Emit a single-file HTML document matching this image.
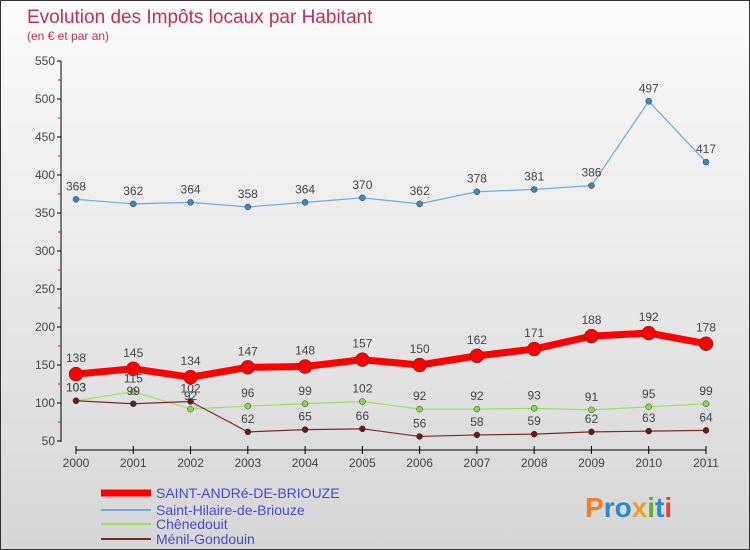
<!DOCTYPE html>
<html><head><meta charset="utf-8"><style>
body{margin:0}
#c{width:750px;height:550px;position:relative;overflow:hidden;background:linear-gradient(#fbfbfb,#d6d6d6);box-sizing:border-box;border:1px solid #333;font-family:"Liberation Sans",sans-serif}
svg{position:absolute;left:0;top:0}
</style></head><body>
<div id="c">
<svg id="s" width="750" height="550">
<text x="26" y="22" font-size="19" fill="#c0305a">Evolution des Impôts locaux par Habitant</text>
<text x="26" y="39" font-size="12" fill="#c0305a">(en € et par an)</text>
</svg>
</div>
<script>
const years=[2000,2001,2002,2003,2004,2005,2006,2007,2008,2009,2010,2011];
const yTicks=[50,100,150,200,250,300,350,400,450,500,550];
const saint=[138,145,134,147,148,157,150,162,171,188,192,178];
const hilaire=[368,362,364,358,364,370,362,378,381,386,497,417];
const chene=[103,115,92,96,99,102,92,92,93,91,95,99];
const menil=[103,99,102,62,65,66,56,58,59,62,63,64];
const names=["SAINT-ANDRé-DE-BRIOUZE","Saint-Hilaire-de-Briouze","Chênedouit","Ménil-Gondouin"];
const NS="http://www.w3.org/2000/svg";
const s=document.getElementById('s');
const X=i=>75+i*(630/11);
const Y=v=>60+(550-v)*0.76;
function el(t,a,p){const e=document.createElementNS(NS,t);for(const k in a)e.setAttribute(k,a[k]);(p||s).appendChild(e);return e;}
let ax=el('line',{x1:60,y1:60,x2:60,y2:441,stroke:'#000','stroke-width':1});


yTicks.forEach(v=>{
  let t=el('line',{x1:56,y1:Y(v),x2:60,y2:Y(v),stroke:'#000'});
  
  
  if(v<550){let m=el('line',{x1:57,y1:Y(v+25),x2:60,y2:Y(v+25),stroke:'#d22'});
  
  }
  let l=el('text',{x:54,y:Y(v)+4,'text-anchor':'end','font-size':12,fill:'#444'});
  l.textContent=v;
  
  
});
let xa=el('line',{x1:75,y1:449,x2:705,y2:449,stroke:'#000'});


years.forEach((y,i)=>{
  let t=el('line',{x1:X(i),y1:445,x2:X(i),y2:453,stroke:'#000'});
  
  
  let l=el('text',{x:X(i),y:466,'text-anchor':'middle','font-size':12,fill:'#444'});
  l.textContent=y;
  
  
});
function series(d,col,w,r,dot,key,dy){
  let p=el('polyline',{points:d.map((v,i)=>X(i)+','+Y(v)).join(' '),fill:'none',stroke:col,'stroke-width':w,'stroke-linejoin':'round'});
  
  
  d.forEach((v,i)=>{
    let c=el('circle',{cx:X(i),cy:Y(v),r:r,fill:dot,stroke:'#333','stroke-width':0.5});
    
    
    let t=el('text',{x:X(i),y:Y(v)-dy,'text-anchor':'middle','font-size':12,fill:'#444'});
    t.textContent=v;
    
    
  });
}
series(hilaire,'#6fa8dc',1.2,3,'#3a88c8','saint-hilaire',9);
series(chene,'#99e060',1.2,3,'#88d84a','chenedouit',9);
series(menil,'#7a2a2a',1.2,3,'#6a1818','menil-gondouin',9);
series(saint,'#ff0000',7,7,'#ff0000','saint-andre',12);
const lc=['#ff0000','#6fa8dc','#99e060','#7a2a2a'],lw=[7,2,2,2],ly=[492,509,523,538];
names.forEach((n,i)=>{
  let g=el('g',{});
  
  
  el('line',{x1:100,y1:ly[i],x2:150,y2:ly[i],stroke:lc[i],'stroke-width':lw[i]},g);
  let t=el('text',{x:155,y:ly[i]+5,'font-size':14,fill:'#4a4ad0'},g);
  t.textContent=n;
});
let lg=el('text',{x:584,y:516,'font-size':28,'font-weight':'bold',fill:'#2a8ad0'});


lg.innerHTML='<tspan fill="#f08020">P</tspan>ro<tspan fill="#f0a020">x</tspan><tspan fill="#60b030">i</tspan>t<tspan fill="#e04040">i</tspan>';
</script>
</body></html>
